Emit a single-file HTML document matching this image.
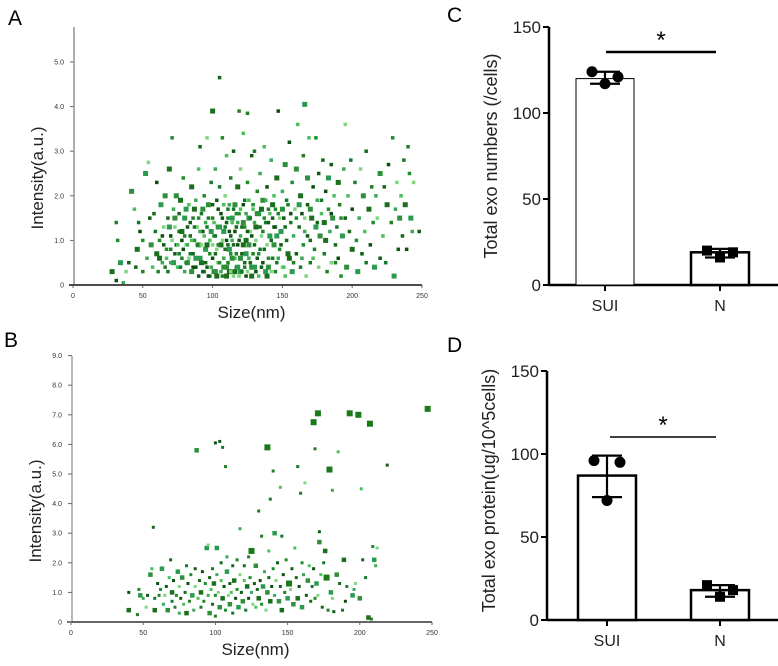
<!DOCTYPE html>
<html><head><meta charset="utf-8"><style>
body{margin:0;background:#fff;width:778px;height:666px;overflow:hidden;font-family:"Liberation Sans",Arial,sans-serif}
svg{position:absolute;left:0;top:0}
</style></head><body>
<svg id="fig" width="778" height="666" font-family="Liberation Sans, Arial, sans-serif">
<text x="8" y="25" font-size="21">A</text>
<text x="4" y="347" font-size="21">B</text>
<text x="447" y="22" font-size="21">C</text>
<text x="447" y="352" font-size="21">D</text>
<g id="gA"></g>
<g id="gB"></g>
<g id="gC"></g>
<g id="gD"></g>
</svg>
<script>
// ---- Scatter A data: [size nm, intensity]
const pointsA=[
[28,0.3],[31,0.1],[31,1.4],[32,1.0],[34,0.5],[36,0.05],[38,0.3],[40,0.5],[42,2.1],[44,1.7],[45,0.4],[47,1.4],[46,0.8],[48,1.2],[50,0.3],[50,1.0],[52,2.5],[53,0.6],[54,2.75],[55,1.5],[56,0.9],[57,0.4],[58,1.6],[59,1.2],[60,0.7],[60,2.3],[61,0.3],[62,1.0],[63,1.8],[64,0.5],[65,1.3],[65,0.9],[66,2.0],[67,0.6],[68,1.5],[68,0.3],[69,2.6],[70,1.1],[70,0.8],[71,3.3],[72,0.5],[72,1.7],[73,1.3],[74,0.9],[74,2.0],[75,0.4],[76,1.2],[76,0.7],[77,1.9],[78,1.0],[78,0.6],[79,2.4],[80,1.5],[80,0.3],[81,0.9],[82,1.3],[82,0.5],[83,1.8],[84,1.1],[84,0.7],[85,2.2],[86,0.4],[86,1.5],[87,1.0],[88,0.6],[88,1.9],[89,1.3],[90,0.2],[90,0.9],[90,2.6],[91,3.1],[92,1.6],[92,0.5],[93,1.2],[94,0.3],[94,2.0],[95,0.8],[95,1.4],[96,3.3],[96,0.4],[97,1.8],[98,1.0],[98,0.2],[99,2.3],[100,3.9],[100,0.6],[100,1.5],[101,1.1],[102,0.3],[102,2.6],[103,0.8],[103,1.9],[104,1.3],[104,0.5],[105,4.65],[105,2.2],[106,0.9],[106,1.6],[107,0.2],[107,3.3],[108,1.2],[108,0.6],[109,2.0],[110,1.4],[110,0.4],[110,2.9],[111,0.9],[111,1.7],[112,0.3],[112,1.2],[113,2.4],[113,0.7],[114,1.5],[114,1.0],[115,0.2],[115,3.0],[116,1.8],[116,0.6],[117,1.3],[117,0.4],[118,2.2],[118,0.9],[119,3.9],[119,1.6],[120,0.3],[120,1.1],[120,2.6],[121,0.7],[122,1.4],[122,3.4],[123,0.5],[123,1.9],[124,1.0],[124,0.2],[125,3.85],[125,2.3],[126,1.5],[126,0.6],[127,1.2],[128,2.9],[128,0.4],[129,1.7],[130,0.9],[130,3.0],[131,1.3],[131,0.3],[132,2.1],[133,0.7],[133,1.6],[134,2.5],[135,1.1],[135,0.4],[136,1.9],[137,3.1],[137,0.8],[138,1.4],[139,0.2],[139,2.2],[140,1.7],[140,0.6],[141,1.1],[142,2.8],[142,0.3],[143,1.5],[144,0.9],[144,2.0],[145,1.3],[146,0.5],[146,2.4],[147,3.9],[147,1.6],[148,0.8],[149,1.2],[150,2.1],[150,0.4],[151,1.5],[152,2.7],[152,0.2],[153,1.0],[154,1.8],[155,0.6],[155,3.2],[156,1.4],[157,2.3],[157,0.3],[158,1.1],[159,1.7],[160,0.7],[160,2.6],[161,3.6],[162,1.3],[163,0.4],[163,2.0],[164,1.6],[165,2.9],[165,0.9],[166,4.05],[166,1.2],[167,0.2],[168,1.8],[168,2.4],[169,3.3],[170,1.0],[170,0.5],[171,1.5],[172,2.2],[173,0.8],[174,3.3],[174,1.3],[175,1.9],[176,0.4],[176,2.5],[177,1.1],[178,1.6],[179,2.8],[180,0.7],[180,1.4],[181,2.1],[182,0.3],[183,1.7],[183,2.4],[184,1.2],[185,0.5],[185,2.7],[186,1.5],[187,2.0],[188,0.9],[189,1.3],[190,2.3],[190,0.6],[191,1.8],[192,0.2],[193,1.1],[194,2.6],[195,3.6],[195,1.5],[196,0.4],[197,2.0],[198,1.2],[199,2.8],[200,0.8],[200,1.7],[202,2.3],[203,1.0],[204,0.3],[205,1.5],[206,2.6],[207,0.7],[208,2.0],[209,1.2],[210,3.0],[210,0.5],[212,1.7],[213,0.9],[214,2.2],[215,1.4],[216,0.4],[217,2.0],[218,1.5],[220,0.6],[220,2.5],[222,1.1],[223,2.2],[224,0.5],[225,1.8],[226,2.7],[228,1.4],[229,3.3],[230,0.2],[231,1.7],[232,2.3],[233,0.8],[234,1.5],[235,2.0],[236,1.1],[237,2.8],[238,1.8],[239,0.8],[240,3.1],[241,2.5],[242,1.5],[243,1.2],[244,2.3],[248,1.2]
];
// dense core of panel A
const pointsA2=[
[62,0.6],[64,1.1],[66,0.4],[67,0.8],[69,1.3],[70,0.5],[71,1.0],[73,0.7],[73,1.5],[75,0.9],[76,1.6],[77,0.4],[78,1.2],[79,0.8],[80,1.1],[81,0.5],[81,1.7],[82,0.9],[83,0.6],[84,1.4],[85,0.3],[85,1.0],[86,0.7],[87,1.3],[87,1.7],[88,0.4],[89,0.9],[90,1.5],[91,0.6],[91,1.2],[92,0.9],[93,0.3],[93,1.7],[94,1.1],[95,0.5],[96,1.3],[96,0.9],[97,0.2],[97,1.5],[98,0.7],[99,1.2],[99,0.4],[100,0.9],[100,1.8],[101,0.3],[101,1.4],[102,0.7],[102,1.1],[103,0.2],[104,1.7],[104,0.9],[105,0.5],[105,1.3],[106,0.3],[107,1.0],[107,1.5],[108,0.4],[108,1.8],[109,0.8],[109,1.3],[110,0.2],[110,1.0],[111,0.5],[111,1.5],[112,0.8],[112,1.8],[113,0.3],[113,1.1],[114,0.6],[114,1.4],[115,0.9],[115,1.7],[116,0.3],[116,1.2],[117,0.7],[117,1.6],[118,0.4],[118,1.4],[119,0.2],[119,1.0],[120,0.6],[120,1.7],[121,1.3],[121,0.3],[122,0.9],[122,1.8],[123,0.4],[123,1.3],[124,0.7],[124,1.6],[125,0.3],[125,1.2],[126,0.9],[126,1.9],[127,0.5],[127,1.5],[128,0.2],[128,1.1],[129,0.7],[129,1.8],[130,0.4],[130,1.4],[131,1.0],[132,0.6],[132,1.6],[133,0.2],[134,1.3],[134,0.8],[135,1.7],[136,0.5],[136,1.2],[137,1.5],[138,0.3],[138,1.9],[139,0.9],[140,1.4],[140,0.4],[141,1.6],[142,1.0],[143,0.6],[143,1.8],[144,1.3],[145,0.3],[145,1.7],[146,1.1],[147,0.6],[148,1.5],[149,0.9],[150,1.7],[151,0.4],[152,1.3],[153,1.9],[154,0.7],[156,1.6],[158,0.5],[160,1.5],[162,1.8],[164,0.6],[166,1.5],[168,1.1],[170,1.7],[172,0.6],[175,1.4],[178,1.9],[181,1.0],[185,1.6],[188,0.5],[192,1.5]
];
// ---- Scatter B data
const pointsB=[
[40,0.4],[40,1.0],[46,0.25],[47,1.1],[48,0.9],[50,0.8],[52,0.5],[53,0.9],[55,1.6],[56,1.8],[57,3.2],[58,0.8],[58,0.4],[60,1.3],[61,0.9],[62,1.1],[63,1.8],[64,0.6],[65,0.9],[66,1.2],[67,0.4],[68,1.5],[69,2.1],[70,0.7],[70,1.0],[71,1.4],[72,0.5],[73,0.9],[74,1.7],[75,0.3],[75,1.2],[76,0.8],[77,1.5],[78,0.6],[79,1.0],[80,1.9],[80,0.3],[81,1.3],[82,0.7],[83,1.6],[84,0.9],[85,0.4],[86,1.2],[86,1.8],[87,5.8],[88,0.8],[89,1.4],[90,0.5],[90,1.0],[91,1.7],[92,0.7],[93,1.3],[94,2.5],[95,0.9],[95,2.6],[96,1.5],[96,0.3],[97,1.1],[98,0.6],[98,1.8],[99,1.3],[100,6.05],[100,0.2],[100,0.9],[101,2.5],[101,1.6],[102,1.0],[103,6.1],[103,0.5],[104,1.4],[104,2.0],[105,5.9],[105,0.8],[106,1.2],[107,5.25],[107,0.4],[108,1.7],[108,2.2],[109,0.9],[110,1.3],[110,0.6],[111,1.0],[112,1.9],[112,0.3],[113,1.4],[114,0.8],[115,2.1],[115,1.1],[116,0.5],[117,3.15],[117,1.6],[118,1.0],[119,0.7],[120,1.4],[120,1.9],[121,0.4],[122,1.2],[123,0.8],[123,2.2],[124,1.5],[125,2.4],[125,1.0],[126,0.6],[127,1.3],[128,1.9],[128,0.5],[129,1.1],[130,3.75],[130,0.8],[131,1.4],[132,2.9],[132,0.6],[133,1.2],[134,1.7],[135,0.4],[136,5.9],[136,1.0],[137,2.4],[137,1.5],[138,4.15],[138,0.7],[139,1.2],[140,5.1],[140,1.8],[141,3.0],[141,0.9],[142,1.4],[143,2.0],[144,0.7],[145,4.55],[145,1.2],[146,2.9],[146,0.4],[147,1.6],[148,1.0],[149,2.1],[150,0.8],[151,1.3],[152,1.1],[153,1.8],[154,0.6],[155,2.5],[156,1.5],[157,5.25],[157,0.8],[158,1.2],[159,4.35],[160,2.0],[160,0.5],[161,1.6],[162,4.7],[163,0.9],[164,1.4],[165,1.9],[166,0.7],[167,1.2],[168,6.75],[168,1.8],[169,5.85],[169,0.8],[170,1.3],[171,7.05],[171,0.9],[172,3.05],[172,2.7],[173,1.6],[174,0.5],[175,2.0],[176,2.4],[177,1.5],[178,0.4],[179,5.15],[180,1.0],[181,4.45],[181,0.8],[182,0.35],[184,1.6],[185,5.75],[186,1.3],[188,0.4],[189,2.1],[190,0.7],[191,1.2],[193,7.05],[195,0.9],[196,1.1],[197,1.3],[199,7.0],[200,0.8],[201,4.5],[202,2.1],[204,1.5],[206,0.15],[207,6.7],[208,0.1],[209,2.55],[210,2.1],[211,1.9],[212,2.5],[219,5.3],[247,7.2]
];
const bigB=[[168,6.75],[171,7.05],[179,5.15],[193,7.05],[199,7.0],[207,6.7],[247,7.2],[136,5.9],[125,2.4],[151,1.3],[177,1.5]];
const xTicksScatter=["0","50","100","150","200","250"];
const yTicksA=["0","1.0","2.0","3.0","4.0","5.0"];
const yTicksB=["0","1.0","2.0","3.0","4.0","5.0","6.0","7.0","8.0","9.0"];
// ---- Bar chart data
const groups=["SUI","N"];
const meansC=[120,19];
const errC=[[117,124],[16,21]];
const ptsC=[[124,117,121],[20,16,19]];
const meansD=[87,18];
const errD=[[74,99],[14,21]];
const ptsD=[[96,72,95],[21,14,18]];
const barTicks=["0","50","100","150"];

const NS="http://www.w3.org/2000/svg";
function mk(tag,attrs,parent,txt){const e=document.createElementNS(NS,tag);for(const k in attrs)e.setAttribute(k,attrs[k]);if(txt!==undefined)e.textContent=txt;parent.appendChild(e);return e;}
const greens=["#1b6e1b","#0f5c14","#237f25","#4cbf5a","#2a9a50","#127a2c","#7fd67f","#0b4f10","#2f8f3a","#1d8f2a","#146a18","#3aa855"];

function scatter(g,pts,big,cfg,yt,id,base){
  const X=v=>cfg.x0+v/250*(cfg.x1-cfg.x0);
  const Y=v=>cfg.y0-v*cfg.py;
  let ax=mk('line',{x1:cfg.x0+1,y1:cfg.yTop,x2:cfg.x0+1,y2:cfg.y0,stroke:'#888','stroke-width':1.2},g);
  
  let bx=mk('line',{x1:cfg.x0-4,y1:cfg.y0,x2:cfg.x1,y2:cfg.y0,stroke:'#333','stroke-width':1.5},g);
  
  yt.forEach((t,i)=>{const y=Y(i);
    mk('line',{x1:cfg.x0-3,y1:y,x2:cfg.x0+1,y2:y,stroke:'#666'},g);
    const tx=mk('text',{x:cfg.x0-9,y:y+2.5,'font-size':7,'text-anchor':'end',fill:'#333'},g,t);
    });
  if(yt.length) xTicksScatter.forEach((t,i)=>{const x=X(i*50);
    mk('line',{x1:x,y1:cfg.y0,x2:x,y2:cfg.y0+3,stroke:'#666'},g);
    const tx=mk('text',{x:x,y:cfg.y0+13,'font-size':7,'text-anchor':'middle',fill:'#333'},g,t);
    });
  pts.forEach((p,i)=>{
    const isBig=big.some(b=>b[0]===p[0]&&b[1]===p[1]);
    const s=isBig?6:(i%4===0?base+1.5:base);
    const r=mk('rect',{x:X(p[0])-s/2,y:Y(p[1])-s/2,width:s,height:s,fill:isBig?'#1a7a1a':greens[(i*7)%greens.length]},g);
    });
}
function titles(g,cfg,id){
  const yl=mk('text',{transform:`translate(${cfg.x0-30},${(cfg.y0+cfg.yTop)/2+22}) rotate(-90)`,'font-size':17,'text-anchor':'middle',fill:'#222'},g,'Intensity(a.u.)');
  
  const xl=mk('text',{x:(cfg.x0+cfg.x1)/2+4,y:cfg.y0+33,'font-size':17,'text-anchor':'middle',fill:'#222'},g,'Size(nm)');
  
}
const cfgA={x0:73,x1:422,y0:285,yTop:27,py:44.6};
const cfgB={x0:71,x1:432,y0:622,yTop:356,py:29.6};
scatter(document.getElementById('gA'),pointsA,[],cfgA,yTicksA,'scatter-a',3.5);
scatter(document.getElementById('gA'),pointsA2,[],cfgA,[],'scatter-a',3.5);
titles(document.getElementById('gA'),cfgA,'scatter-a');
scatter(document.getElementById('gB'),pointsB,bigB,cfgB,yTicksB,'scatter-b',3);
titles(document.getElementById('gB'),cfgB,'scatter-b');

function bars(g,cfg,means,err,pts,title,id,bw){
  const Y=v=>cfg.y0-v/150*(cfg.y0-cfg.y150);
  let ya=mk('line',{x1:cfg.ax,y1:cfg.y150,x2:cfg.ax,y2:cfg.y0,stroke:'#000','stroke-width':2.5},g);
  
  let xa=mk('line',{x1:cfg.ax,y1:cfg.y0,x2:778,y2:cfg.y0,stroke:'#000','stroke-width':2.5},g);
  
  barTicks.forEach((t,i)=>{const y=Y(i*50);
    mk('line',{x1:cfg.ax-6,y1:y,x2:cfg.ax,y2:y,stroke:'#000','stroke-width':2},g);
    const tx=mk('text',{x:cfg.ax-8,y:y+6,'font-size':17,'text-anchor':'end',fill:'#222'},g,t);
    });
  groups.forEach((gr,i)=>{
    const cx=cfg.cx[i],w=58;
    const r=mk('rect',{x:cx-w/2,y:Y(means[i]),width:w,height:cfg.y0-Y(means[i]),fill:'#fff',stroke:'#000','stroke-width':bw[i]},g);
    
    mk('line',{x1:cx,y1:cfg.y0,x2:cx,y2:cfg.y0+6,stroke:'#000','stroke-width':2},g);
    const tl=mk('text',{x:cx,y:cfg.y0+26,'font-size':16,'text-anchor':'middle',fill:'#222'},g,gr);
    
    const e=mk('path',{d:`M${cx},${Y(err[i][0])}V${Y(err[i][1])}M${cx-15},${Y(err[i][0])}h30M${cx-15},${Y(err[i][1])}h30`,stroke:'#000','stroke-width':2.2,fill:'none'},g);
    
    pts[i].forEach((v,j)=>{const px=cx-13+j*13;
      let m;
      if(i===0)m=mk('circle',{cx:px,cy:Y(v),r:5.5,fill:'#000'},g);
      else m=mk('rect',{x:px-5,y:Y(v)-5,width:10,height:10,fill:'#000'},g);
      });
  });
  const sl=mk('line',{x1:cfg.sig[0],y1:cfg.sig[2],x2:cfg.sig[1],y2:cfg.sig[2],stroke:'#000','stroke-width':cfg.sig[3]},g);
  
  const st=mk('text',{x:(cfg.sig[0]+cfg.sig[1])/2,y:cfg.sig[2]-4,'font-size':24,'text-anchor':'middle'},g,'*');
  
  const yl=mk('text',{transform:`translate(${cfg.ax-52},${(cfg.y0+cfg.y150)/2+cfg.tOff}) rotate(-90)`,'font-size':18,'text-anchor':'middle',fill:'#222'},g,title);
  
}
bars(document.getElementById('gC'),{ax:549,y0:285,y150:27,cx:[605,720],sig:[606,716,52,2.5],tOff:0},meansC,errC,ptsC,'Total exo numbers (/cells)','bar-chart-c',[1,2.5]);
bars(document.getElementById('gD'),{ax:547,y0:620,y150:371,cx:[607,720],sig:[610,716,437,1.5],tOff:-5},meansD,errD,ptsD,'Total exo protein(ug/10^5cells)','bar-chart-d',[2.5,2.5]);
</script>
</body></html>
